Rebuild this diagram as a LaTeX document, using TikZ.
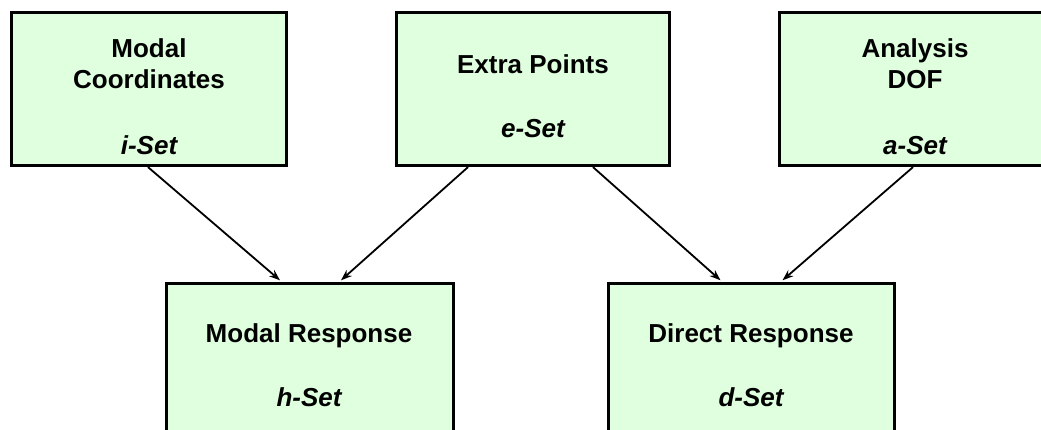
\documentclass[tikz,border=0pt]{standalone}
\usepackage{fontspec}
\setmainfont{Liberation Sans}
\usetikzlibrary{arrows.meta}
\definecolor{boxfill}{HTML}{DFFFDF}
\tikzset{
  setbox/.style={draw=black, line width=3.2pt, fill=boxfill, rectangle, inner sep=0pt},
  lbl/.style={anchor=base, inner sep=0pt, font=\fontsize{26}{31}\selectfont\bfseries},
  setlbl/.style={lbl, font=\fontsize{26}{31}\selectfont\bfseries\itshape},
  conn/.style={line width=1.8pt, -{Stealth[length=11pt,width=8pt]}}
}
\begin{document}
\begin{tikzpicture}[x=1pt,y=-1pt]
\useasboundingbox (0,0) rectangle (1041,429);
\clip (0,0) rectangle (1041,429);
% boxes
\node[setbox, minimum width=275pt, minimum height=153pt] (A) at (149,89) {};
\node[setbox, minimum width=273pt, minimum height=153pt] (B) at (533,89) {};
\node[setbox, minimum width=273pt, minimum height=153pt] (C) at (916,89) {};
\node[setbox, minimum width=287pt, minimum height=200pt] (D) at (310,383.5) {};
\node[setbox, minimum width=286pt, minimum height=200pt] (E) at (751.5,383.5) {};
% labels
\node[lbl] (a1) at (149,57) {Modal};
\node[lbl] (a2) at (149,88) {Coordinates};
\node[setlbl] (a3) at (149,154) {i-Set};
\node[lbl] (b1) at (533,73) {Extra Points};
\node[setlbl] (b2) at (533,137) {e-Set};
\node[lbl] (c1) at (915,57) {Analysis};
\node[lbl] (c2) at (915,88) {DOF};
\node[setlbl] (c3) at (915,154) {a-Set};
\node[lbl] (d1) at (309,342) {Modal Response};
\node[setlbl] (d2) at (309,406) {h-Set};
\node[lbl] (e1) at (751,342) {Direct Response};
\node[setlbl] (e2) at (751,406) {d-Set};
% connectors
\draw[conn] ([xshift=-1pt]A.south) -- ([xshift=-30pt,yshift=1.6pt]D.north);
\draw[conn] ([xshift=-65pt]B.south) -- ([xshift=31pt,yshift=1.6pt]D.north);
\draw[conn] ([xshift=60pt]B.south) -- ([xshift=-31pt,yshift=1.6pt]E.north);
\draw[conn] ([xshift=-3pt]C.south) -- ([xshift=31pt,yshift=1.6pt]E.north);
\end{tikzpicture}
\end{document}
